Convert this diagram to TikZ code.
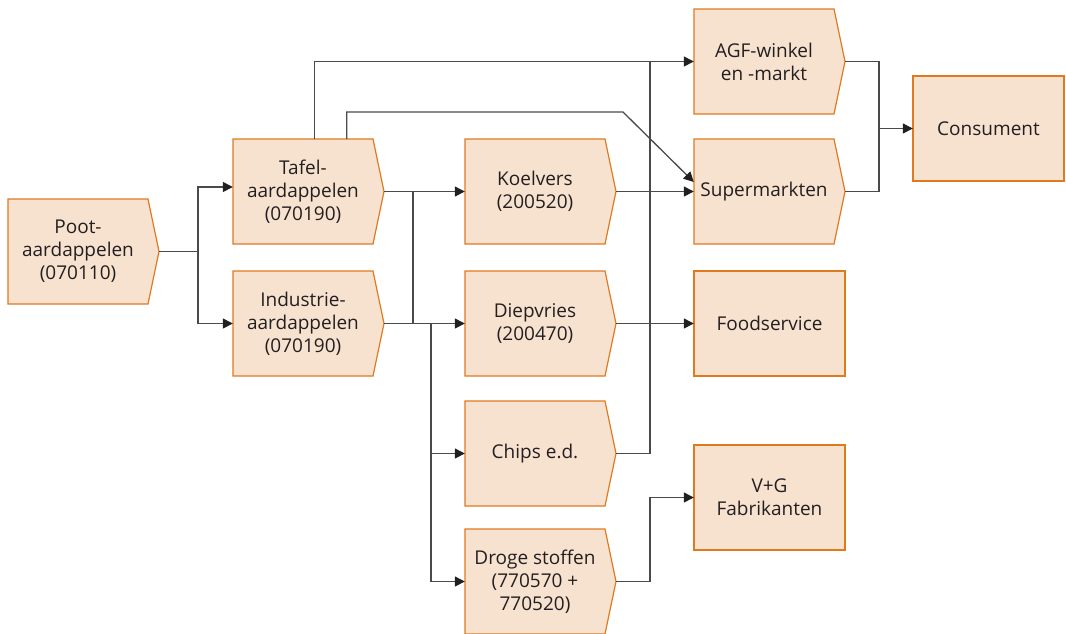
\documentclass[tikz,border=0pt]{standalone}
\usepackage{fontspec}
\setmainfont{Open Sans}
\usetikzlibrary{arrows.meta}

\definecolor{boxfill}{HTML}{F7E2D0}
\definecolor{boxedge}{HTML}{E07A1F}
\definecolor{linegray}{HTML}{4A4A4A}
\definecolor{ink}{HTML}{231F20}

\tikzset{
  flowbox/.style={fill=boxfill, draw=boxedge, line width=1.2pt, line join=miter},
  boxlabel/.style={text=ink, align=center, font=\fontsize{19}{23}\selectfont,
    minimum width=140pt, minimum height=105pt, inner sep=0pt, draw=none},
  link/.style={draw=linegray, line width=1.3pt},
  feed/.style={link, -{Triangle[length=10pt,width=10pt,color=ink]}}
}

% process step: rectangle with a pointed right edge (name, left, top, text)
\newcommand\procbox[4]{%
  \path[flowbox] (#2,#3) -- ++(140,0) -- ++(11,52.5) -- ++(-11,52.5) -- ++(-140,0) -- cycle;
  \node[boxlabel] (#1) at (#2+70,#3+52.5) {#4};
  \coordinate (#1-tip) at (#2+151,#3+52.5);
}
% end point: plain rectangle (name, left, top, text)
\newcommand\sinkbox[4]{%
  \path[flowbox] (#2,#3) rectangle ++(151,105);
  \node[boxlabel, minimum width=151pt] (#1) at (#2+75.5,#3+52.5) {#4};
}

\begin{document}
\begin{tikzpicture}[x=1pt, y=-1pt]
\useasboundingbox (0,0) rectangle (1066,633);

% boxes
\procbox{poot}{8}{199}{Poot-\\aardappelen\\(070110)}
\procbox{tafel}{233}{139}{Tafel-\\aardappelen\\(070190)}
\procbox{indus}{233}{271}{Industrie-\\aardappelen\\(070190)}
\procbox{koel}{465}{139}{Koelvers\\(200520)}
\procbox{diep}{465}{271}{Diepvries\\(200470)}
\procbox{chips}{465}{401}{Chips e.d.}
\procbox{droge}{465}{529}{Droge stoffen\\(770570 +\\770520)}
\procbox{agf}{694}{9}{AGF-winkel\\en -markt}
\procbox{super}{694}{139}{Supermarkten}
\sinkbox{food}{694}{271}{Foodservice}
\sinkbox{vg}{694}{445}{V+G\\Fabrikanten}
\sinkbox{cons}{913}{76}{Consument}

% seed potatoes split into table and industrial potatoes
\coordinate (jp) at (198,251.5);
\draw[link] (poot-tip) -- (jp);
\draw[feed] (jp) |- ([yshift=4.5pt]tafel.west);
\draw[feed] (jp) |- (indus.west);

% processing
\coordinate (ja) at (413,191.5);
\coordinate (jb) at (413,323.5);
\coordinate (jc) at (431,323.5);
\draw[feed] (tafel-tip) -- (koel.west);
\draw[link] (ja) -- (jb);
\draw[feed] (indus-tip) -- (diep.west);
\draw[feed] (jc) |- (chips.west);
\draw[feed] (jc) |- (droge.west);

% direct routes of table potatoes to retail
\coordinate (kink) at (623,112);
\draw[feed] ([xshift=82pt]tafel.north west) |- (agf.west);
\draw[feed] ([xshift=114pt]tafel.north west) |- (kink) -- ([yshift=9.5pt]super.west);

% distribution
\coordinate (jd) at (650,61.5);
\draw[feed] (koel-tip) -- (super.west);
\draw[link] (chips-tip) -| (jd);
\draw[feed] (diep-tip) -- (food.west);
\draw[feed] (droge-tip) -- ++(34,0) |- (vg.west);

% retail to consumer
\coordinate (je) at (879,128.5);
\draw[link] (agf-tip) -| (je);
\draw[link] (super-tip) -| (je);
\draw[feed] (je) -- (cons.west);
\end{tikzpicture}
\end{document}
